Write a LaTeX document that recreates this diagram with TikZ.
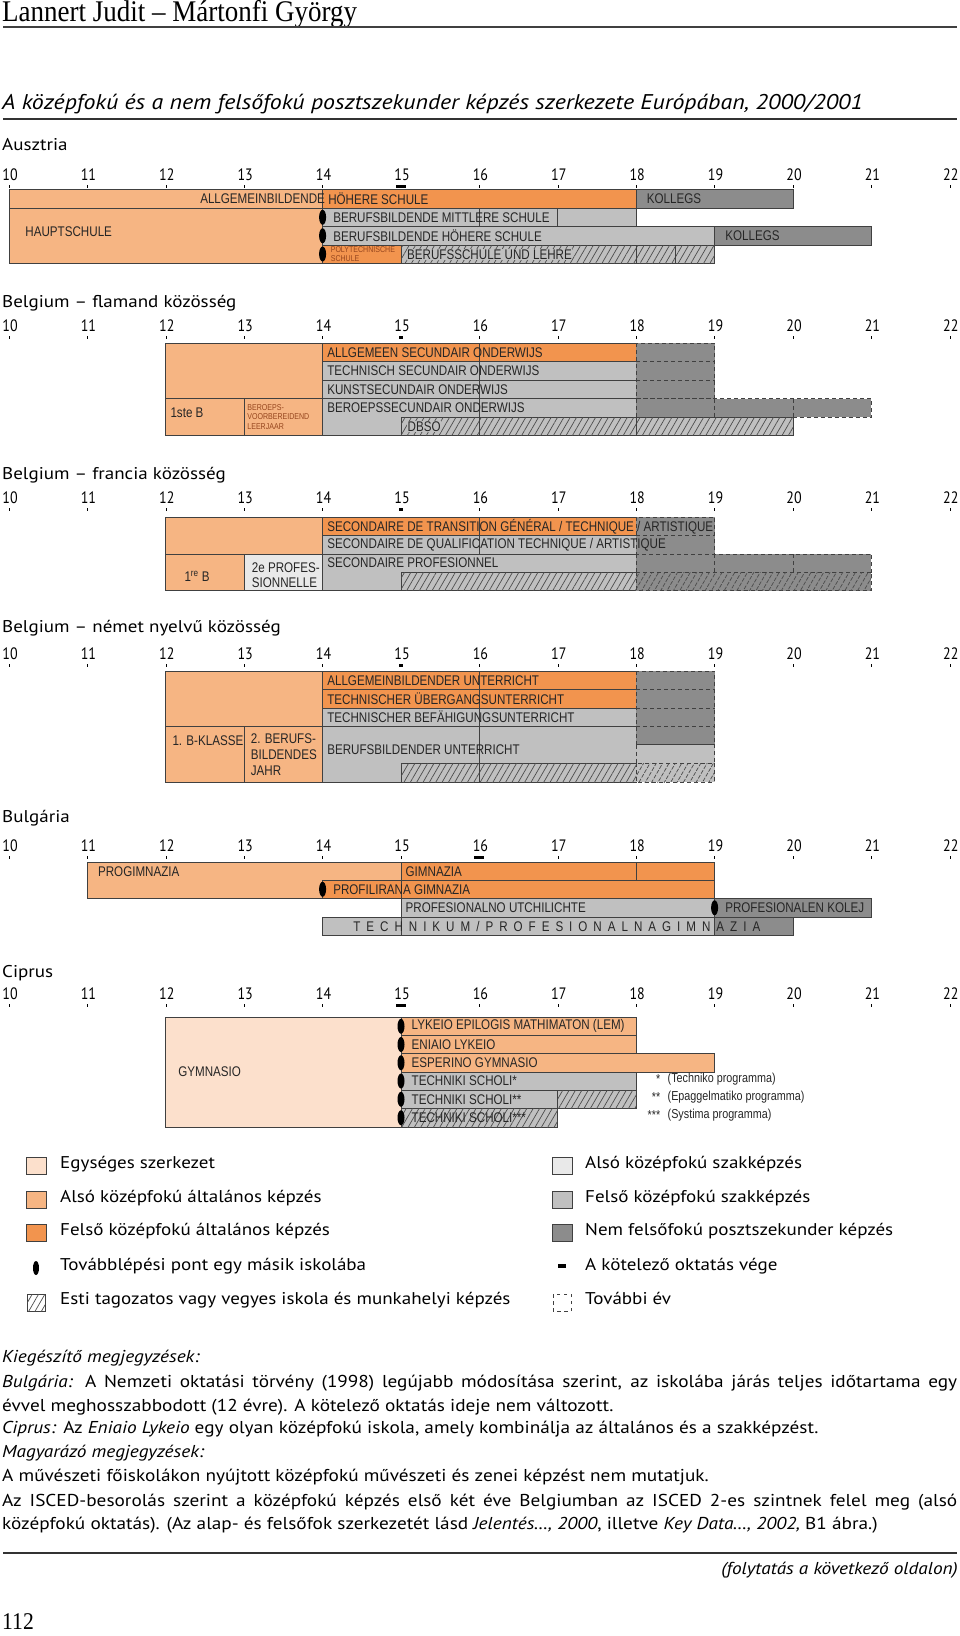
\documentclass[tikz,border=0pt]{standalone}
\usepackage{fontspec}
\setmainfont{PT Sans}[FakeStretch=1.12]
\newfontfamily\szamfont[FakeStretch=0.85]{PT Sans}
\newfontfamily\barfont[FakeStretch=0.83]{Liberation Sans}
\newfontfamily\fejfont[FakeStretch=0.9]{Liberation Serif}
\usepackage{tikz}
\usetikzlibrary{patterns.meta}

\definecolor{egyseg}{RGB}{252,224,204}
\definecolor{altal}{RGB}{246,181,131}
\definecolor{felsoaltal}{RGB}{242,148,78}
\definecolor{szakal}{RGB}{233,233,233}
\definecolor{szakfel}{RGB}{192,192,192}
\definecolor{posztsz}{RGB}{140,140,140}
\definecolor{barna}{RGB}{150,70,30}

% age scale with ticks and the end of compulsory schooling
\newcommand\korskala[4]{%
  \foreach \k in {10,...,22}{
    \node[szam] (#1-\k) at (\k,#2+6) {\k};
    \draw[vekony] (\k,#2+11) -- (\k,#2+14);
  }
  \node[kotelezo, minimum width=#4pt] (#1-vege) at (#3,#2+12.5) {};
}

\begin{document}
\begin{tikzpicture}[
    x=1pt, y=-1pt,
    sav/.style={draw=black!75, line width=0.7pt},
    egy/.style={sav, fill=egyseg},
    alsoalt/.style={sav, fill=altal},
    felsoalt/.style={sav, fill=felsoaltal},
    alsoszak/.style={sav, fill=szakal},
    felsoszak/.style={sav, fill=szakfel},
    poszt/.style={sav, fill=posztsz},
    tovabbi/.style={draw=black!75, line width=0.7pt, dash pattern=on 4pt off 3pt, fill=posztsz},
    szaggatott/.style={draw=black!75, line width=0.7pt, dash pattern=on 4pt off 3pt},
    esti/.style={postaction={pattern={Lines[angle=60, distance=5.5pt, line width=0.7pt]}, pattern color=black!70}},
    atmenet/.style={fill=black},
    vekony/.style={line width=0.6pt},
    kotelezo/.style={fill=black, inner sep=0pt, minimum height=3.5pt},
    szam/.style={font=\szamfont\fontsize{16.5}{17}\selectfont, anchor=base, inner sep=0pt, xshift=1pt},
    felirat/.style={font=\barfont\fontsize{14}{15}\selectfont, anchor=west, inner sep=0.5pt, xshift=4pt, text=black!85},
    kis/.style={font=\barfont\fontsize{8.5}{9.5}\selectfont, anchor=west, align=left, inner sep=0pt, xshift=3pt, text=barna},
    orszag/.style={font=\fontsize{17}{17}\selectfont, anchor=west, inner sep=0pt},
    jel/.style={font=\fontsize{17}{17}\selectfont, anchor=mid west, inner sep=0pt},
    jegyzet/.style={font=\fontsize{17.2}{18}\selectfont, anchor=west, inner sep=0pt},
    fej/.style={font=\fejfont\fontsize{30}{30}\selectfont, anchor=west, inner sep=0pt}
]
\useasboundingbox (0,0) rectangle (960,1636);

% header and title
\node[fej] (fej) at (2,14) {Lannert Judit – Mártonfi György};
\draw[line width=1.3pt, black!75] (3,27) -- (957,27);
\node[orszag, font=\itshape\fontsize{21.3}{22}\selectfont] (cim) at (2,104)
  {A középfokú és a nem felsőfokú posztszekunder képzés szerkezete Európában, 2000/2001};
\draw[line width=2pt, black!80] (3,119) -- (957,119);

% Ausztria
\node[orszag] (ausztria) at (2,145) {Ausztria};
\begin{scope}[x=78.4pt, xshift=-775pt]
  \korskala{at}{174}{15}{10}
  \draw[alsoalt] (10,189) rectangle (14,208);
  \draw[alsoalt] (10,208) rectangle (14,263);
  \draw[felsoalt] (14,189) rectangle (18,208);
  \draw[poszt] (18,189) rectangle (20,208);
  \draw[felsoszak] (14,208) rectangle (18,226.5);
  \draw[sav] (16,208) -- (16,226.5) (17,208) -- (17,226.5);
  \draw[felsoszak] (14,226.5) rectangle (19,245);
  \draw[poszt] (19,226.5) rectangle (21,245);
  \draw[felsoalt] (14,245) rectangle (15,263);
  \draw[felsoszak, esti] (15,245) rectangle (19,263);
  \draw[sav] (18,245) -- (18,263) (18.5,245) -- (18.5,263);
  \foreach \y in {217.25,235.75,254}
    \fill[atmenet] (14,\y) ellipse [x radius=3.5pt, y radius=7.5pt];
  \node[felirat, anchor=east, xshift=-1pt] (at-ah) at (14,198.5) {ALLGEMEINBILDENDE};
  \node[felirat, xshift=1pt] (at-hs) at (14,198.5) {HÖHERE SCHULE};
  \node[felirat, xshift=6pt] (at-k1) at (18,198.5) {KOLLEGS};
  \node[felirat] (at-haupt) at (10.15,231.5) {HAUPTSCHULE};
  \node[felirat, xshift=6pt] (at-bms) at (14,217.25) {BERUFSBILDENDE MITTLERE SCHULE};
  \node[felirat, xshift=6pt] (at-bhs) at (14,235.75) {BERUFSBILDENDE HÖHERE SCHULE};
  \node[felirat, xshift=6pt] (at-k2) at (19,235.75) {KOLLEGS};
  \node[kis, xshift=5pt] (at-poly) at (14,254) {POLYTECHNISCHE\\SCHULE};
  \node[felirat, xshift=1.5pt, fill=szakfel] (at-bl) at (15,254.5) {BERUFSSCHULE UND LEHRE};
\end{scope}

% Belgium - flamand
\node[orszag] (flamand) at (2,303) {Belgium – flamand közösség};
\begin{scope}[x=78.4pt, xshift=-775pt]
  \korskala{fl}{325}{15}{4}
  \draw[alsoalt] (12,343) rectangle (14,398.5);
  \draw[alsoalt] (12,398.5) rectangle (13,435.5);
  \draw[alsoalt] (13,398.5) rectangle (14,435.5);
  \draw[felsoalt] (14,343) rectangle (18,361.5);
  \draw[felsoszak] (14,361.5) rectangle (18,380);
  \draw[felsoszak] (14,380) rectangle (18,398.5);
  \draw[felsoszak] (14,398.5) rectangle (18,435.5);
  \draw[tovabbi] (18,343) rectangle (19,398.5);
  \draw[szaggatott] (18,361.5) -- (19,361.5) (18,380) -- (19,380);
  \draw[tovabbi] (18,398.5) rectangle (21,417);
  \draw[szaggatott] (19,398.5) -- (19,417) (20,398.5) -- (20,417);
  \draw[felsoszak, esti] (15,417) rectangle (20,435.5);
  \draw[sav] (16,343) -- (16,435.5) (18,417) -- (18,435.5);
  \node[felirat] (fl-1ste) at (12,413) {1ste B};
  \node[kis] (fl-bvl) at (13,417) {BEROEPS-\\VOORBEREIDEND\\LEERJAAR};
  \node[felirat] (fl-aso) at (14,352.25) {ALLGEMEEN SECUNDAIR ONDERWIJS};
  \node[felirat] (fl-tso) at (14,370.75) {TECHNISCH SECUNDAIR ONDERWIJS};
  \node[felirat] (fl-kso) at (14,389.25) {KUNSTSECUNDAIR ONDERWIJS};
  \node[felirat] (fl-bso) at (14,408) {BEROEPSSECUNDAIR ONDERWIJS};
  \node[felirat, fill=szakfel, xshift=2pt] (fl-dbso) at (15,426.5) {DBSO};
\end{scope}

% Belgium - francia
\node[orszag] (francia) at (2,475) {Belgium – francia közösség};
\begin{scope}[x=78.4pt, xshift=-775pt]
  \korskala{fr}{497}{15}{4}
  \draw[alsoalt] (12,517) rectangle (14,554);
  \draw[alsoalt] (12,554) rectangle (13,590.5);
  \draw[alsoszak] (13,554) rectangle (14,590.5);
  \draw[felsoalt] (14,517) rectangle (18,535.5);
  \draw[felsoszak] (14,535.5) rectangle (18,554);
  \draw[felsoszak] (14,554) rectangle (18,590.5);
  \draw[felsoszak, esti] (15,572) rectangle (18,590.5);
  \draw[sav] (16,517) -- (16,554);
  \draw[tovabbi] (18,517) rectangle (19,554);
  \draw[szaggatott] (18,535.5) -- (19,535.5);
  \draw[tovabbi] (18,554) rectangle (21,572);
  \draw[szaggatott] (19,554) -- (19,572) (20,554) -- (20,572);
  \draw[tovabbi, esti] (18,572) rectangle (21,590.5);
  \node[felirat, xshift=14pt] (fr-1re) at (12,576) {1\textsuperscript{re} B};
  \node[felirat, align=left, xshift=3pt, font=\barfont\fontsize{14}{15}\selectfont] (fr-2e) at (13,575.5) {2e PROFES-\\SIONNELLE};
  \node[felirat] (fr-trans) at (14,526.25) {SECONDAIRE DE TRANSITION GÉNÉRAL / TECHNIQUE / ARTISTIQUE};
  \node[felirat] (fr-qual) at (14,544.75) {SECONDAIRE DE QUALIFICATION TECHNIQUE / ARTISTIQUE};
  \node[felirat] (fr-prof) at (14,562.5) {SECONDAIRE PROFESIONNEL};
\end{scope}

% Belgium - nemet
\node[orszag] (nemet) at (2,628) {Belgium – német nyelvű közösség};
\begin{scope}[x=78.4pt, xshift=-775pt]
  \korskala{ne}{653}{15}{4}
  \draw[alsoalt] (12,671) rectangle (14,726);
  \draw[alsoalt] (12,726) rectangle (13,782);
  \draw[alsoalt] (13,726) rectangle (14,782);
  \draw[felsoalt] (14,671) rectangle (18,689.5);
  \draw[felsoalt] (14,689.5) rectangle (18,708);
  \draw[felsoszak] (14,708) rectangle (18,726);
  \draw[felsoszak] (14,726) rectangle (18,782);
  \draw[felsoszak, esti] (15,763) rectangle (18,782);
  \draw[sav] (16,671) -- (16,782);
  \draw[tovabbi] (18,671) rectangle (19,744.5);
  \draw[szaggatott] (18,689.5) -- (19,689.5) (18,708) -- (19,708) (18,726) -- (19,726);
  \draw[tovabbi, fill=szakfel] (18,744.5) rectangle (19,763);
  \draw[tovabbi, fill=szakfel, esti] (18,763) rectangle (19,782);
  \node[felirat, xshift=2pt] (ne-1b) at (12,740.5) {1. B-KLASSE};
  \node[felirat, align=left, anchor=north west, xshift=2pt, font=\barfont\fontsize{14}{16}\selectfont] (ne-2b) at (13,733) {2. BERUFS-\\BILDENDES\\JAHR};
  \node[felirat] (ne-au) at (14,680.25) {ALLGEMEINBILDENDER UNTERRICHT};
  \node[felirat] (ne-tu) at (14,698.75) {TECHNISCHER ÜBERGANGSUNTERRICHT};
  \node[felirat] (ne-tb) at (14,717) {TECHNISCHER BEFÄHIGUNGSUNTERRICHT};
  \node[felirat] (ne-bu) at (14,749.5) {BERUFSBILDENDER UNTERRICHT};
\end{scope}

% Bulgaria
\node[orszag] (bulgaria) at (2,818) {Bulgária};
\begin{scope}[x=78.4pt, xshift=-775pt]
  \korskala{bg}{845}{16}{10}
  \draw[alsoalt] (11,862) rectangle (15,898.5);
  \draw[felsoalt] (15,862) rectangle (19,880.5);
  \draw[felsoalt] (14,880.5) rectangle (19,898.5);
  \draw[felsoszak] (15,898.5) rectangle (19,917);
  \draw[poszt] (19,898.5) rectangle (21,917);
  \draw[felsoszak] (14,917) rectangle (19,935);
  \draw[poszt] (19,917) rectangle (20,935);
  \draw[sav] (18,862) -- (18,880.5) (15,862) -- (15,935);
  \fill[atmenet] (14,889.25) ellipse [x radius=3.5pt, y radius=7.5pt];
  \fill[atmenet] (19,907.75) ellipse [x radius=3.5pt, y radius=7.5pt];
  \node[felirat, xshift=6pt] (bg-pro) at (11,871.5) {PROGIMNAZIA};
  \node[felirat] (bg-gim) at (15,871.25) {GIMNAZIA};
  \node[felirat, xshift=6pt] (bg-pg) at (14,889.5) {PROFILIRANA GIMNAZIA};
  \node[felirat] (bg-pu) at (15,907.75) {PROFESIONALNO UTCHILICHTE};
  \node[felirat, xshift=6pt] (bg-pk) at (19,907.75) {PROFESIONALEN KOLEJ};
  \node[felirat, xshift=26pt] (bg-tech) at (14,926)
    {\makebox[407pt][s]{T E C H N I K U M / P R O F E S I O N A L N A G I M N A Z I A}};
\end{scope}

% Ciprus
\node[orszag] (ciprus) at (2,973) {Ciprus};
\begin{scope}[x=78.4pt, xshift=-775pt]
  \korskala{cy}{993}{15}{10}
  \draw[egy] (12,1017) rectangle (15,1127);
  \draw[alsoalt] (15,1017) rectangle (18,1035.5);
  \draw[alsoalt] (15,1035.5) rectangle (18,1053.5);
  \draw[alsoalt] (15,1053.5) rectangle (19,1072);
  \draw[felsoszak] (15,1072) rectangle (18,1090);
  \draw[felsoszak] (15,1090) rectangle (17,1108.5);
  \draw[felsoszak, esti] (17,1090) rectangle (18,1108.5);
  \draw[felsoszak, esti] (15,1108.5) rectangle (17,1127);
  \foreach \y in {1026.25,1044.5,1062.75,1081,1099.25,1117.75}
    \fill[atmenet] (15,\y) ellipse [x radius=3.5pt, y radius=7.5pt];
  \node[felirat] (cy-gym) at (12.1,1071.5) {GYMNASIO};
  \node[felirat, xshift=6pt] (cy-lem) at (15,1026.25) {LYKEIO EPILOGIS MATHIMATON (LEM)};
  \node[felirat, xshift=6pt] (cy-en) at (15,1044.5) {ENIAIO LYKEIO};
  \node[felirat, xshift=6pt] (cy-es) at (15,1062.75) {ESPERINO GYMNASIO};
  \node[felirat, xshift=6pt] (cy-t1) at (15,1081) {TECHNIKI SCHOLI*};
  \node[felirat, xshift=6pt] (cy-t2) at (15,1099.25) {TECHNIKI SCHOLI**};
  \node[felirat, xshift=6pt] (cy-t3) at (15,1117.75) {TECHNIKI SCHOLI***};
\end{scope}
\foreach \c/\t/\y in {*/Techniko programma/1079, **/Epaggelmatiko programma/1097, ***/Systima programma/1115}{
  \node[felirat, anchor=east, xshift=0pt, font=\barfont\fontsize{13}{14}\selectfont] (cy-\y) at (657,\y) {\c};
  \node[felirat, xshift=0pt, font=\barfont\fontsize{13}{14}\selectfont] at (663,\y) {(\t)};
}

% jelmagyarazat
\draw[egy] (26,1157) rectangle (46,1174);
\draw[alsoalt] (26,1191) rectangle (46,1208);
\draw[felsoalt] (26,1224) rectangle (46,1241);
\fill[atmenet] (36,1268) ellipse [x radius=3pt, y radius=7pt];
\draw[sav, fill=white, esti] (27,1294) rectangle (45,1311);
\node[jel] (j1) at (60,1166) {Egységes szerkezet};
\node[jel] (j2) at (60,1200) {Alsó középfokú általános képzés};
\node[jel] (j3) at (60,1233) {Felső középfokú általános képzés};
\node[jel] (j4) at (60,1268) {Továbblépési pont egy másik iskolába};
\node[jel] (j5) at (60,1302) {Esti tagozatos vagy vegyes iskola és munkahelyi képzés};
\draw[alsoszak] (552,1157) rectangle (572,1174);
\draw[felsoszak] (552,1191) rectangle (572,1208);
\draw[poszt] (552,1224) rectangle (572,1241);
\fill (558,1264) rectangle (566,1268);
\draw[szaggatott, dash pattern=on 3.5pt off 3.5pt] (553,1294) rectangle (571,1311);
\node[jel] (j6) at (585,1166) {Alsó középfokú szakképzés};
\node[jel] (j7) at (585,1200) {Felső középfokú szakképzés};
\node[jel] (j8) at (585,1233) {Nem felsőfokú posztszekunder képzés};
\node[jel] (j9) at (585,1268) {A kötelező oktatás vége};
\node[jel] (j10) at (585,1302) {További év};

% megjegyzesek
\node[jegyzet] (m1) at (2,1358) {\textit{Kiegészítő megjegyzések:}};
\node[jegyzet] (m2) at (2,1383) {\makebox[955pt][s]{\textit{Bulgária:} A Nemzeti oktatási törvény (1998) legújabb módosítása szerint, az iskolába járás teljes időtartama egy}};
\node[jegyzet] (m3) at (2,1407) {évvel meghosszabbodott (12 évre). A kötelező oktatás ideje nem változott.};
\node[jegyzet] (m4) at (2,1429) {\textit{Ciprus:} Az \textit{Eniaio Lykeio} egy olyan középfokú iskola, amely kombinálja az általános és a szakképzést.};
\node[jegyzet] (m5) at (2,1453) {\textit{Magyarázó megjegyzések:}};
\node[jegyzet] (m6) at (2,1477) {A művészeti főiskolákon nyújtott középfokú művészeti és zenei képzést nem mutatjuk.};
\node[jegyzet] (m7) at (2,1502) {\makebox[955pt][s]{Az ISCED-besorolás szerint a középfokú képzés első két éve Belgiumban az ISCED 2-es szintnek felel meg (alsó}};
\node[jegyzet] (m8) at (2,1525) {középfokú oktatás). (Az alap- és felsőfok szerkezetét lásd \textit{Jelentés…, 2000}, illetve \textit{Key Data…, 2002,} B1 ábra.)};
\draw[line width=1.6pt, black!80] (3,1553) -- (957,1553);
\node[jegyzet, anchor=east] (folyt) at (958,1570) {\textit{(folytatás a következő oldalon)}};
\node[fej, font=\fejfont\fontsize{24}{24}\selectfont] (oldal) at (2,1622) {112};
\end{tikzpicture}
\end{document}
